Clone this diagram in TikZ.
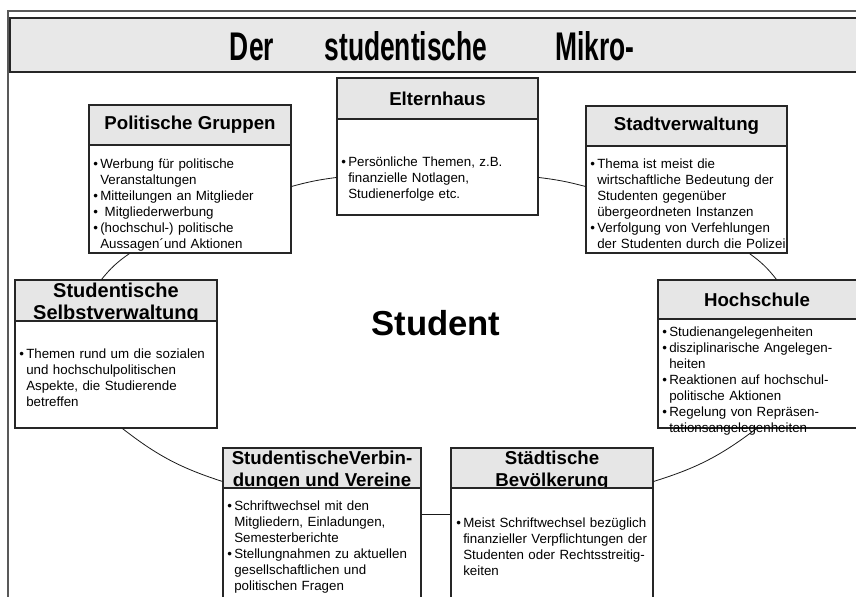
\documentclass[tikz,border=0pt]{standalone}
\usepackage{fontspec}
\setmainfont{Liberation Sans}
\usetikzlibrary{fit,calc}
\definecolor{hdrgray}{HTML}{E6E6E6}
\definecolor{titlegray}{HTML}{E8E8E8}
\newcommand{\bitem}[1]{\par\hangindent=5.25pt\hangafter=1\noindent\makebox[5.25pt][l]{\textbullet}\strut#1\par}
\begin{document}
\begin{tikzpicture}[x=0.75pt,y=-0.75pt,
  hdr/.style={draw=black!85, fill=hdrgray, line width=0.8pt, inner sep=0pt},
  hdrtext/.style={font=\fontsize{14}{16.5}\selectfont\bfseries, align=center, inner sep=0pt},
  bdy/.style={draw=black!85, fill=white, line width=0.8pt, inner sep=0pt},
  txt/.style={anchor=north west, inner sep=0pt, font=\fontsize{10}{12}\selectfont, text width=150pt},
  conn/.style={draw=black!90, line width=0.6pt},
  ttl/.style={inner sep=0pt, anchor=base, font=\fontsize{30}{34}\selectfont\bfseries}
]
\useasboundingbox (0,0) rectangle (856,596);
\clip (0,0) rectangle (856,596);
\fill[white] (0,0) rectangle (856,596);

% frame
\draw[black!65, line width=1.5pt] (8,600) -- (8,11) -- (860,11);
\node[fit={(10,18) (862,72)}, fill=titlegray, draw=black!85, line width=1.2pt, inner sep=0pt] (titlebar) {};
\node[ttl] (t1) at (252,60) {\scalebox{0.66}[1]{Der}};
\node[ttl] (t2) at (406,60) {\scalebox{0.66}[1]{studentische}};
\node[ttl] (t3) at (595,60) {\scalebox{0.66}[1]{Mikro-}};

% Politische Gruppen
\node[hdr, fit={(89,105) (291,145)}] (pgh) {};
\node[hdrtext] (pgl) at (pgh.center) {Politische Gruppen};
\node[bdy, fit={(89,145) (291,253)}] (pgb) {};
\node[txt] (pgt) at (93,151.8) {\raggedright\bitem{Werbung für politische\newline Veranstaltungen}\bitem{Mitteilungen an Mitglieder}\bitem{\ Mitgliederwerbung}\bitem{(hochschul-) politische\newline Aussagen´und Aktionen}};

% Elternhaus
\node[hdr, fit={(337,78) (538,119)}] (elh) {};
\node[hdrtext] (ell) at (elh.center) {Elternhaus};
\node[bdy, fit={(337,119) (538,215)}] (elb) {};
\node[txt] (elt) at (341,150.3) {\raggedright\bitem{Persönliche Themen, z.B.\newline finanzielle Notlagen,\newline Studienerfolge etc.}};

% Stadtverwaltung
\node[hdr, fit={(586,106) (787,146)}] (svh) {};
\node[hdrtext] (svl) at (svh.center) {Stadtverwaltung};
\node[bdy, fit={(586,146) (787,253)}] (svb) {};
\node[txt] (svt) at (590,151.8) {\raggedright\bitem{Thema ist meist die\newline wirtschaftliche Bedeutung der\newline Studenten gegenüber\newline übergeordneten Instanzen}\bitem{Verfolgung von Verfehlungen\newline der Studenten durch die Polizei}};

% Studentische Selbstverwaltung
\node[hdr, fit={(15,280) (217,321)}] (sbh) {};
\node[hdrtext, font=\fontsize{15}{16.5}\selectfont\bfseries] (sbl) at (116,303) {Studentische\\Selbstverwaltung};
\node[bdy, fit={(15,321) (217,428)}] (sbb) {};
\node[txt] (sbt) at (19,341.8) {\raggedright\bitem{Themen rund um die sozialen\newline und hochschulpolitischen\newline Aspekte, die Studierende\newline betreffen}};

% Hochschule
\node[hdr, fit={(658,280) (862,319)}] (hoh) {};
\node[hdrtext] (hol) at (757,300) {Hochschule};
\node[bdy, fit={(658,319) (862,428)}] (hob) {};
\node[txt] (hot) at (662,319.8) {\raggedright\bitem{Studienangelegenheiten}\bitem{disziplinarische Angelegen-\newline heiten}\bitem{Reaktionen auf hochschul-\newline politische Aktionen}\bitem{Regelung von Repräsen-\newline tationsangelegenheiten}};

% Studentische Verbindungen
\node[hdr, fit={(223,448) (421,488)}] (vbh) {};
\node[hdrtext] (vbl) at (322,470.5) {StudentischeVerbin-\\dungen und Vereine};
\node[bdy, fit={(223,488) (421,602)}] (vbb) {};
\node[txt] (vbt) at (227,493.8) {\raggedright\bitem{Schriftwechsel mit den\newline Mitgliedern, Einladungen,\newline Semesterberichte}\bitem{Stellungnahmen zu aktuellen\newline gesellschaftlichen und\newline politischen Fragen}};

% Staedtische Bevoelkerung
\node[hdr, fit={(451,448) (653,488)}] (sth) {};
\node[hdrtext] (stl) at (552,470.5) {Städtische\\Bevölkerung};
\node[bdy, fit={(451,488) (653,602)}] (stb) {};
\node[txt] (stt) at (456,510.8) {\raggedright\bitem{Meist Schriftwechsel bezüglich\newline finanzieller Verpflichtungen der\newline Studenten oder Rechtsstreitig-\newline keiten}};

% center
\node[font=\fontsize{26}{30}\selectfont\bfseries] (student) at (436,323) {Student};

% connectors
\draw[conn] ($(sbh.north west)+(87,0)$) to[bend left=8] ($(pgb.south west)+(41,0)$);
\draw[conn] ($(pgb.north east)+(0,42)$) to[bend left=4] ($(elb.north west)+(0,59)$);
\draw[conn] ($(elb.north east)+(0,59)$) to[bend left=4] ($(svb.north west)+(0,41)$);
\draw[conn] ($(svb.south west)+(164,0)$) to[bend left=8] ($(hoh.north west)+(119,0)$);
\draw[conn] ($(hob.south west)+(99,0)$) to[bend left=10] ($(sth.north east)+(0,34)$);
\draw[conn] ($(stb.north west)+(0,27)$) -- ($(vbb.north east)+(0,27)$);
\draw[conn] ($(vbh.north west)+(0,34)$) to[bend left=10] ($(sbb.south west)+(108,0)$);
\end{tikzpicture}
\end{document}
